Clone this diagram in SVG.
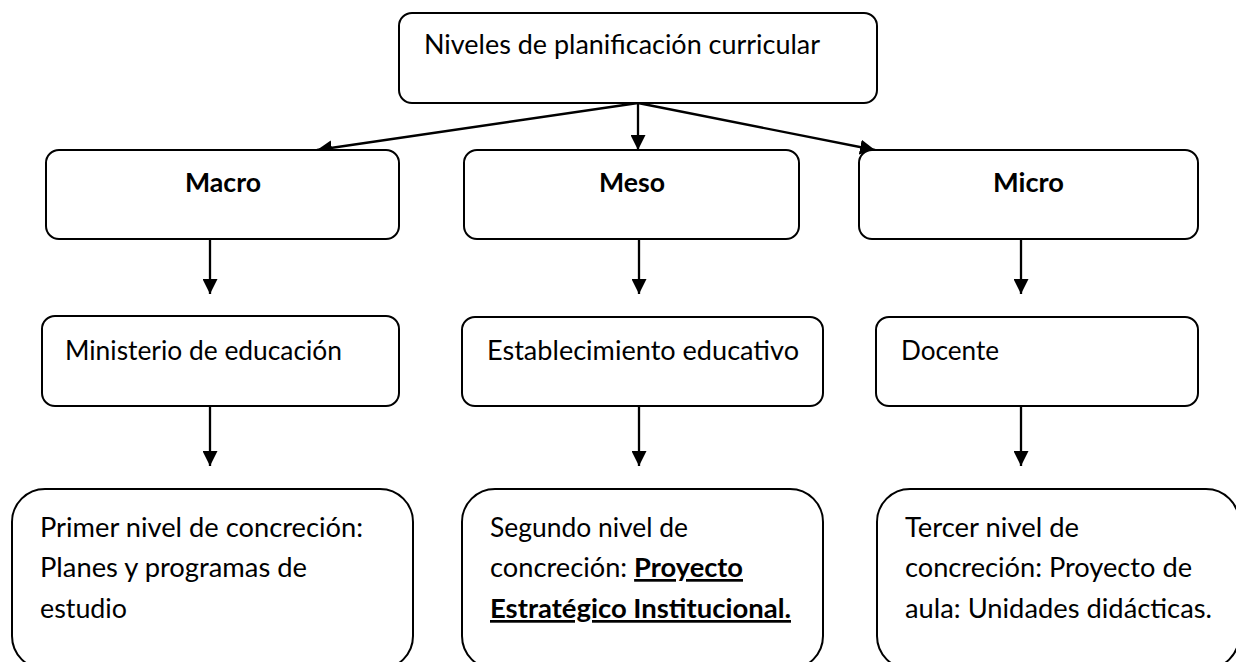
<svg xmlns="http://www.w3.org/2000/svg" width="1236" height="662" viewBox="0 0 1236 662">
<style>
.box{fill:#fff;stroke:#000;stroke-width:2}
.t{font-family:Lato,"Open Sans","Liberation Sans",sans-serif;font-size:27px;fill:#000}
.b{font-weight:bold}
.u{font-weight:bold;text-decoration:underline}
.c{stroke:#000;stroke-width:2.3;fill:none;marker-end:url(#ah)}
</style>
<defs>
<marker id="ah" viewBox="0 0 15 15" refX="15" refY="7.5" markerWidth="15" markerHeight="15" markerUnits="userSpaceOnUse" orient="auto">
<path d="M0,0 L15,7.5 L0,15 Z" fill="#000"/>
</marker>
</defs>
<rect width="1236" height="662" fill="#fff"/>
<g id="connectors">
<line class="c" x1="638" y1="103" x2="317" y2="150"/>
<line class="c" x1="638" y1="103" x2="638" y2="150"/>
<line class="c" x1="638" y1="103" x2="875" y2="150"/>
<line class="c" x1="210" y1="239" x2="210" y2="294"/>
<line class="c" x1="639" y1="239" x2="639" y2="294"/>
<line class="c" x1="1021" y1="239" x2="1021" y2="294"/>
<line class="c" x1="210" y1="406" x2="210" y2="466"/>
<line class="c" x1="639" y1="406" x2="639" y2="466"/>
<line class="c" x1="1021" y1="406" x2="1021" y2="466"/>
</g>
<g id="root">
<rect class="box" x="399" y="13" width="478" height="90" rx="13"/>
<text class="t" x="424" y="54" textLength="396" lengthAdjust="spacingAndGlyphs">Niveles de planificación curricular</text>
</g>
<g id="macro">
<rect class="box" x="46" y="150" width="353" height="89" rx="13"/>
<text class="t b" x="185" y="192" textLength="76" lengthAdjust="spacingAndGlyphs">Macro</text>
</g>
<g id="meso">
<rect class="box" x="464" y="150" width="335" height="89" rx="13"/>
<text class="t b" x="599" y="192" textLength="66" lengthAdjust="spacingAndGlyphs">Meso</text>
</g>
<g id="micro">
<rect class="box" x="859" y="150" width="339" height="89" rx="13"/>
<text class="t b" x="993" y="192" textLength="71" lengthAdjust="spacingAndGlyphs">Micro</text>
</g>
<g id="ministerio">
<rect class="box" x="42" y="316" width="357" height="90" rx="13"/>
<text class="t" x="65" y="360" textLength="277" lengthAdjust="spacingAndGlyphs">Ministerio de educación</text>
</g>
<g id="establecimiento">
<rect class="box" x="462" y="317" width="361" height="89" rx="13"/>
<text class="t" x="487" y="360" textLength="312" lengthAdjust="spacingAndGlyphs">Establecimiento educativo</text>
</g>
<g id="docente">
<rect class="box" x="876" y="317" width="322" height="89" rx="13"/>
<text class="t" x="901" y="360" textLength="98" lengthAdjust="spacingAndGlyphs">Docente</text>
</g>
<g id="primer">
<rect class="box" x="12" y="489" width="401" height="180" rx="33"/>
<text class="t" x="40" y="537" textLength="323" lengthAdjust="spacingAndGlyphs">Primer nivel de concreción:</text>
<text class="t" x="40" y="577" textLength="267" lengthAdjust="spacingAndGlyphs">Planes y programas de</text>
<text class="t" x="40" y="618" textLength="87" lengthAdjust="spacingAndGlyphs">estudio</text>
</g>
<g id="segundo">
<rect class="box" x="462" y="489" width="361" height="180" rx="33"/>
<text class="t" x="490" y="537" textLength="198" lengthAdjust="spacingAndGlyphs">Segundo nivel de</text>
<text class="t" x="490" y="577" textLength="253" lengthAdjust="spacingAndGlyphs">concreción: <tspan class="u">Proyecto</tspan></text>
<text class="t u" x="490" y="618" textLength="301" lengthAdjust="spacingAndGlyphs">Estratégico Institucional.</text>
</g>
<g id="tercer">
<rect class="box" x="877" y="489" width="362" height="180" rx="33"/>
<text class="t" x="905" y="537" textLength="174" lengthAdjust="spacingAndGlyphs">Tercer nivel de</text>
<text class="t" x="905" y="577" textLength="287" lengthAdjust="spacingAndGlyphs">concreción: Proyecto de</text>
<text class="t" x="905" y="618" textLength="307" lengthAdjust="spacingAndGlyphs">aula: Unidades didácticas.</text>
</g>
</svg>
